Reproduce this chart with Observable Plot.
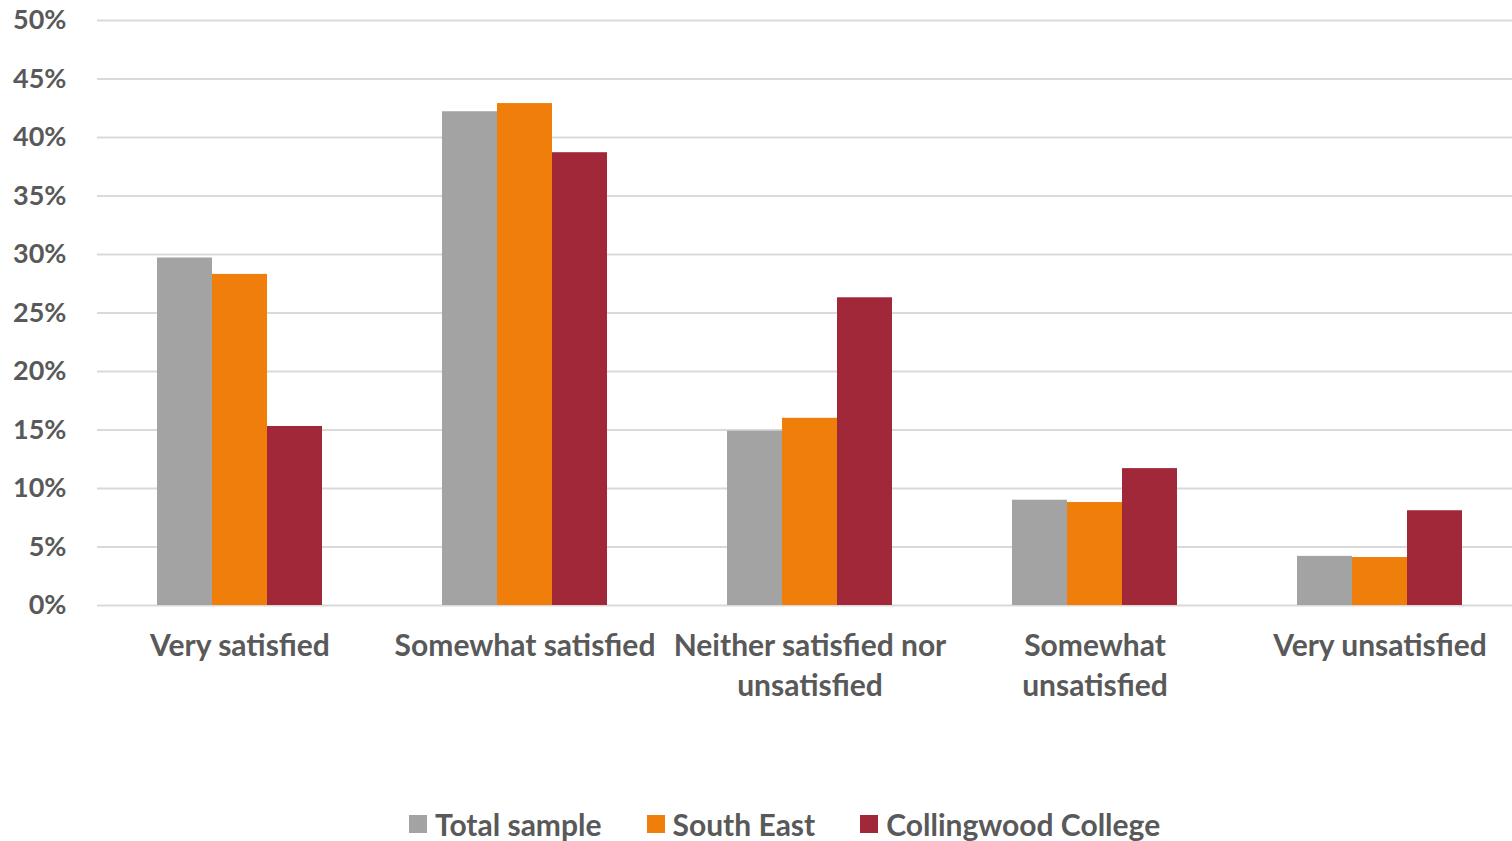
<!DOCTYPE html>
<html>
<head>
<meta charset="utf-8">
<script src="https://cdn.jsdelivr.net/npm/d3@7"></script>
<script src="https://cdn.jsdelivr.net/npm/@observablehq/plot@0.6"></script>
<style>
  html, body { margin: 0; padding: 0; background: #fff; overflow: hidden; }
  #chart svg { display: block; }
  .legend {
    display: flex; align-items: center;
    margin-left: 409px; margin-top: 86px;
    font-family: Lato, "Open Sans", sans-serif; font-weight: 700; font-size: 30px;
    color: #595959; line-height: 36px;
  }
  .legend .item { display: flex; align-items: center; margin-right: 45px; }
  .legend .swatch { width: 18px; height: 18px; margin-right: 8px; }
</style>
</head>
<body>
<div id="chart"></div>
<script>
// Satisfaction categories (with two-line labels for the axis)
const categories = [
  "Very satisfied",
  "Somewhat satisfied",
  "Neither satisfied nor unsatisfied",
  "Somewhat unsatisfied",
  "Very unsatisfied"
];
const categoryLabels = [
  "Very satisfied",
  "Somewhat satisfied",
  "Neither satisfied nor\nunsatisfied",
  "Somewhat\nunsatisfied",
  "Very unsatisfied"
];

// Respondent groups
const series = ["Total sample", "South East", "Collingwood College"];
const seriesColors = ["#A3A3A3", "#EF7F0A", "#A12839"];

// Share of respondents (%) per category
const totalSample = [29.7, 42.2, 14.9, 9.0, 4.2];
const southEast   = [28.3, 42.9, 16.0, 8.8, 4.1];
const collingwood = [15.3, 38.7, 26.3, 11.7, 8.1];

// Axis ticks (%)
const yTicks = [0, 5, 10, 15, 20, 25, 30, 35, 40, 45, 50];

const seriesValues = [totalSample, southEast, collingwood];
const data = categories.flatMap((c, i) =>
  series.map((s, j) => ({category: c, series: s, value: seriesValues[j][i]}))
);
const labelOf = new Map(categories.map((c, i) => [c, categoryLabels[i]]));

const chart = Plot.plot({
  width: 1512,
  height: 720,
  marginTop: 20,
  marginLeft: 97,
  marginRight: 0,
  marginBottom: 115,
  style: {
    fontFamily: "Lato, 'Open Sans', sans-serif",
    fontSize: "27px",
    fontWeight: 700,
    color: "#595959",
    background: "#fff"
  },
  fx: {domain: categories, range: [97, 1522], padding: 0, round: false, label: null},
  x: {domain: series, paddingInner: 0, paddingOuter: 1.0909, round: false, axis: null},
  y: {domain: [0, 50], axis: null},
  color: {domain: series, range: seriesColors},
  marks: [
    Plot.ruleY(yTicks, {stroke: "#d9d9d9", strokeWidth: 2}),
    Plot.barY(data, {fx: "category", x: "series", y: "value", fill: "series"}),
    Plot.axisY(yTicks, {
      tickSize: 0,
      tickPadding: 31,
      fontSize: 27,
      tickFormat: d => d + "%",
      label: null
    }),
    Plot.axisFx({
      anchor: "bottom",
      tickSize: 0,
      tickPadding: 22,
      fontSize: 30,
      lineHeight: 1.333,
      tickFormat: d => labelOf.get(d),
      label: null
    })
  ]
});
document.getElementById("chart").append(chart);

// Legend below the chart
const legend = d3.select("body").append("div").attr("class", "legend");
series.forEach((s, i) => {
  const item = legend.append("div").attr("class", "item");
  item.append("div").attr("class", "swatch").style("background", seriesColors[i]);
  item.append("span").text(s);
});
</script>
</body>
</html>
